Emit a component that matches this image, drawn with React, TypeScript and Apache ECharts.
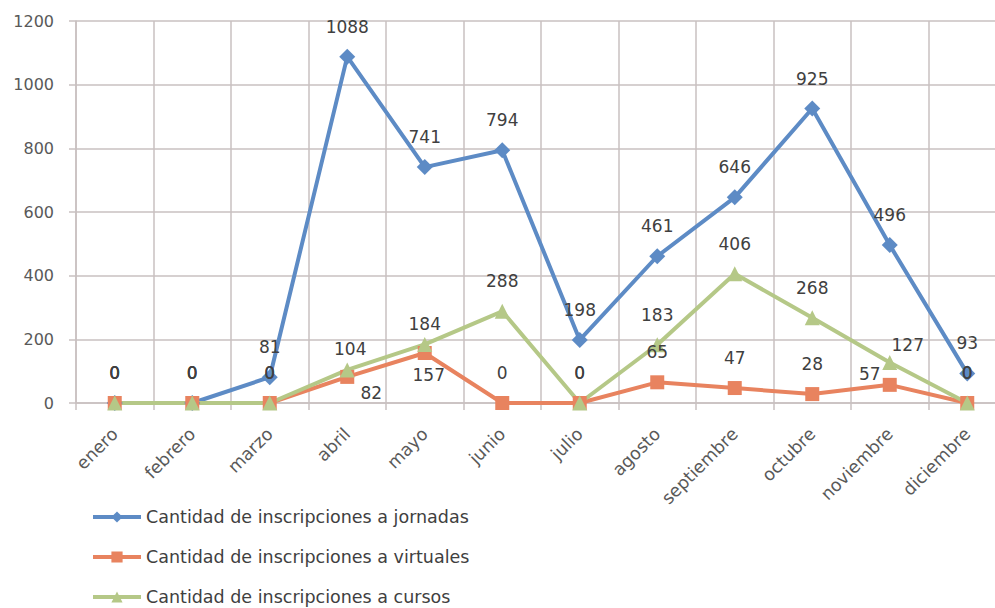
import React, { useEffect, useRef } from "react";
import * as echarts from "echarts";

const months = ["enero", "febrero", "marzo", "abril", "mayo", "junio", "julio", "agosto", "septiembre", "octubre", "noviembre", "diciembre"];
const jornadas = [0, 0, 81, 1088, 741, 794, 198, 461, 646, 925, 496, 93];
const virtuales = [0, 0, 0, 82, 157, 0, 0, 65, 47, 28, 57, 0];
const cursos = [0, 0, 0, 104, 184, 288, 0, 183, 406, 268, 127, 0];
const seriesNames = [
  "Cantidad de inscripciones a jornadas",
  "Cantidad de inscripciones a virtuales",
  "Cantidad de inscripciones a cursos",
];
const yTicks = { min: 0, max: 1200, interval: 200 };

// label offset exceptions (index -> [dx, dy]) relative to the marker centre
const defaultOffset = [0, -30];
const jornadasOffsets: Record<number, number[]> = {};
const virtualesOffsets: Record<number, number[]> = { 3: [24, 16], 4: [4, 22], 10: [-20, -11] };
const cursosOffsets: Record<number, number[]> = { 3: [3, -21], 4: [0, -20], 10: [18, -18] };

const FONT = "'DejaVu Sans', sans-serif";
const GRID = "#c9c0c0";

function buildData(vals: number[], offs: Record<number, number[]>) {
  return vals.map((v, i) => ({
    value: v,
    label: { offset: offs[i] || defaultOffset },
  }));
}

export default function App() {
  const ref = useRef<HTMLDivElement>(null);
  useEffect(() => {
    document.body.style.margin = "0";
    document.body.style.overflow = "hidden";
    const chart = echarts.init(ref.current!, null, { renderer: "svg" });
    const labelBase = {
      show: true,
      position: "inside",
      color: "#404040",
      fontSize: 17,
      fontFamily: FONT,
    };
    const mk = (name: string, vals: number[], offs: Record<number, number[]>, color: string, symbol: string, size: number) => ({
      name,
      type: "line",
      data: buildData(vals, offs),
      symbol,
      symbolSize: size,
      lineStyle: { color, width: 4 },
      itemStyle: { color },
      label: labelBase,
      z: 3,
    });
    chart.setOption({
      animation: false,
      backgroundColor: "#ffffff",
      grid: { left: 76, top: 21, width: 930, height: 382, containLabel: false },
      xAxis: {
        type: "category",
        data: months,
        boundaryGap: true,
        axisLine: { show: true, lineStyle: { color: GRID, width: 1.5 } },
        axisTick: { show: true, length: 7, interval: 0, lineStyle: { color: GRID, width: 1.5 } },
        splitLine: { show: true, interval: 0, lineStyle: { color: GRID, width: 1.5 } },
        axisLabel: {
          rotate: 45,
          interval: 0,
          margin: 28,
          color: "#595959",
          fontSize: 17.5,
          fontFamily: FONT,
        },
      },
      yAxis: {
        type: "value",
        min: yTicks.min,
        max: yTicks.max,
        interval: yTicks.interval,
        axisLine: { show: true, lineStyle: { color: GRID, width: 1.5 } },
        axisTick: { show: true, length: 7, lineStyle: { color: GRID, width: 1.5 } },
        splitLine: { show: true, lineStyle: { color: GRID, width: 1.5 } },
        axisLabel: {
          color: "#595959",
          fontSize: 16,
          fontFamily: FONT,
          margin: 22,
          formatter: (v: number) => String(v),
        },
      },
      legend: {
        orient: "vertical",
        left: 91,
        top: 508,
        padding: 0,
        itemWidth: 48,
        itemHeight: 14,
        itemGap: 22,
        lineStyle: { width: 4 },
        textStyle: { color: "#404040", fontSize: 17.5, fontFamily: FONT, lineHeight: 18 },
        data: seriesNames,
      },
      series: [
        mk(seriesNames[0], jornadas, jornadasOffsets, "#5d8bc5", "diamond", 16),
        mk(seriesNames[1], virtuales, virtualesOffsets, "#e8835f", "rect", 14),
        mk(seriesNames[2], cursos, cursosOffsets, "#b5c887", "triangle", 15),
      ],
    });
    return () => chart.dispose();
  }, []);
  return <div ref={ref} style={{ width: 1010, height: 608 }} />;
}
